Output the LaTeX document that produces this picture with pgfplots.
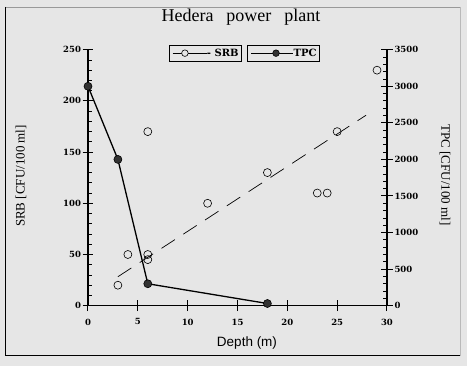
\documentclass[border=0pt]{standalone}
\usepackage{fontspec}
\setmainfont{Liberation Serif}
\newfontfamily\sansf{Liberation Sans}
\newfontfamily\dvs{DejaVu Serif}
\usepackage{pgfplots}
\pgfplotsset{compat=1.18}
\definecolor{bg}{RGB}{230,230,230}
\definecolor{dotfill}{RGB}{50,50,50}
\begin{document}
\begin{tikzpicture}[x=1pt,y=1pt]
\path[use as bounding box, fill=bg] (0,0) rectangle (467,366);
\draw[gray!80, line width=0.8pt] (5,359) -- (460,359);
\draw[gray!55, line width=0.8pt] (460,359) -- (460,10);
\draw[black, line width=1pt] (5,359) -- (5,10) -- (460,10);
\node at (241,349) {\fontsize{18}{18}\selectfont Hedera\hspace{13pt}power\hspace{13pt}plant};
\node at (247,23) {\sansf\fontsize{13.5}{13.5}\selectfont Depth (m)};
\node[rotate=90] at (21,190) {\fontsize{13}{13}\selectfont SRB [CFU/100 ml]};
\node[rotate=-90] at (445,191) {\fontsize{13}{13}\selectfont TPC [CFU/100 ml]};
\begin{axis}[
  at={(88pt,60.3pt)}, anchor=south west, scale only axis,
  width=299pt, height=256pt,
  xmin=0, xmax=30, ymin=0, ymax=250,
  axis x line=bottom, axis y line=left,
  axis line style={-, line width=1.3pt},
  xtick={0,5,...,30}, ytick={0,50,...,250},
  minor y tick num=4,
  tick align=center,
  major tick length=11pt, minor tick length=4pt,
  tick style={line width=1pt, black},
  every minor tick/.append style={xshift=2pt, line width=0.8pt},
  /pgf/number format/assume math mode=true,
  /pgf/number format/1000 sep={},
  tick label style={font=\dvs\bfseries\fontsize{8.5}{8.5}\selectfont},
  xticklabel style={yshift=-4pt},
  yticklabel style={xshift=2pt},
  legend style={at={(0.271,1.018)}, anchor=north west, draw=black, fill=bg,
    line width=0.6pt, font=\dvs\bfseries\fontsize{10}{10}\selectfont,
    inner xsep=3pt, inner ysep=3.3pt, nodes={inner sep=0pt}},
  legend cell align=left,
  clip=false,
]
\addplot[black, line width=0.7pt, dash pattern=on 16pt off 10pt, forget plot]
  coordinates {(3,28.3) (27.9,186)};
\addplot[only marks, mark=o, mark size=4pt, black, mark options={line width=0.6pt},
  legend image code/.code={\path (0pt,0pt) -- (34pt,0pt);
    \draw[black, line width=0.8pt] (3pt,0pt) -- (9pt,0pt);
    \draw[black, line width=0.6pt, fill=bg] (12.3pt,0pt) circle (3.3pt);}]
  coordinates {(3,20) (4,50) (6,170) (6,50) (6,45) (12,100) (18,130) (23,110) (24,110) (25,170) (29,230)};
\addlegendentry{- SRB}
\end{axis}
\begin{axis}[
  at={(88pt,60.3pt)}, anchor=south west, scale only axis,
  width=299pt, height=256pt,
  xmin=0, xmax=30, ymin=0, ymax=3500,
  hide x axis,
  axis y line=right,
  axis line style={-, line width=1.3pt},
  ytick={0,500,...,3500},
  minor y tick num=4,
  tick align=center,
  major tick length=12pt, minor tick length=4pt,
  tick style={line width=1pt, black},
  every minor tick/.append style={xshift=-2pt, line width=0.8pt},
  /pgf/number format/assume math mode=true,
  /pgf/number format/1000 sep={},
  tick label style={font=\dvs\bfseries\fontsize{8.5}{8.5}\selectfont},
  yticklabel style={xshift=-2pt},
  legend style={at={(0.532,1.018)}, anchor=north west, draw=black, fill=bg,
    line width=0.6pt, font=\dvs\bfseries\fontsize{10}{10}\selectfont,
    inner xsep=3pt, inner ysep=3.3pt, nodes={inner sep=0pt}},
  clip=false,
]
\addplot[black, line width=1.3pt, mark=*, mark size=4pt, mark options={fill=dotfill, line width=0.6pt},
  legend image code/.code={\path (0pt,0pt) -- (42pt,0pt);
    \draw[black, line width=1.3pt] (9pt,0pt) -- (40pt,0pt);
    \draw[black, line width=0.6pt, fill=dotfill] (25pt,0pt) circle (3.3pt);}]
  coordinates {(0,3000) (3,2000) (6,300) (18,30)};
\addlegendentry{TPC}
\end{axis}
\end{tikzpicture}
\end{document}
